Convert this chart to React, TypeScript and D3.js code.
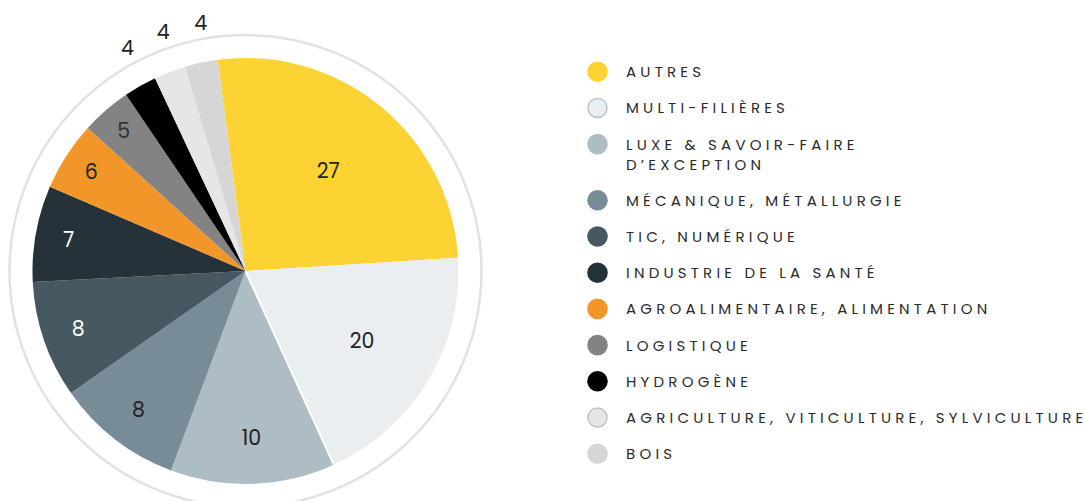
import React from "react";
import * as d3 from "d3";

const categories = [
  "AUTRES",
  "MULTI-FILIÈRES",
  "LUXE & SAVOIR-FAIRE|D’EXCEPTION",
  "MÉCANIQUE, MÉTALLURGIE",
  "TIC, NUMÉRIQUE",
  "INDUSTRIE DE LA SANTÉ",
  "AGROALIMENTAIRE, ALIMENTATION",
  "LOGISTIQUE",
  "HYDROGÈNE",
  "AGRICULTURE, VITICULTURE, SYLVICULTURE",
  "BOIS",
];
// angular share of each slice as drawn in the picture (percent of circle)
const shares = [26.1, 19.2, 12.5, 9.6, 8.9, 7.3, 5.25, 3.8, 2.5, 2.4, 2.5];
// numbers printed on the slices
const labels = [27, 20, 10, 8, 8, 7, 6, 5, 4, 4, 4];
const colors = [
  "#FDD233",
  "#EBEEF1",
  "#AEBCC3",
  "#778C96",
  "#465862",
  "#263239",
  "#F3962A",
  "#838383",
  "#000000",
  "#E6E6E6",
  "#D6D6D6",
];
const labelColors = ["#222", "#222", "#222", "#222", "#fff", "#fff", "#222", "#333", "#222", "#222", "#222"];
const legendStroke = [null, "#B4C0C8", null, null, null, null, null, null, null, "#B4C0C8", null];

const W = 1086;
const H = 501;
const cx = 245.5;
const cy = 271;
const R = 213;
const ringR = 236;
const startDeg = -7.5;

export default function App() {
  const toRad = (d: number) => (d * Math.PI) / 180;
  const pie = d3
    .pie<number>()
    .sort(null)
    .value((d) => d)
    .startAngle(toRad(startDeg))
    .endAngle(toRad(startDeg) + 2 * Math.PI);
  const arcs = pie(shares);
  const arcGen = d3.arc<d3.PieArcDatum<number>>().innerRadius(0).outerRadius(R);

  // label radius depends on slice angular span (degrees)
  const labelR = d3
    .scaleLinear()
    .domain([13, 26, 32, 45, 69, 94])
    .range([186, 180, 177, 167, 136, 130])
    .clamp(true);
  const outsideR = 253;

  const legendX = 597.5;
  const legendTextX = 626;
  const legendTop = 71.7;
  const step = 36.2;
  const extraLine = 20;
  let yCursor = legendTop;
  const legendItems = categories.map((c, i) => {
    const lines = c.split("|");
    const y = yCursor;
    yCursor += step + (lines.length - 1) * extraLine;
    return { lines, y, i };
  });

  const sep = arcs[1];

  return (
    <svg
      width={W}
      height={H}
      style={{ position: "absolute", left: 0, top: 0, background: "#fff" }}
      fontFamily="Poppins, Inter, 'Open Sans', sans-serif"
    >
      <circle cx={cx} cy={cy} r={ringR} fill="none" stroke="#E2E2E2" strokeWidth={2.5} />
      <g transform={`translate(${cx},${cy})`}>
        {arcs.map((a, i) => (
          <path key={i} d={arcGen(a) || ""} fill={colors[i]} />
        ))}
        <line
          x1={0}
          y1={0}
          x2={R * Math.sin(sep.endAngle)}
          y2={-R * Math.cos(sep.endAngle)}
          stroke="#fff"
          strokeWidth={2}
        />
        {arcs.map((a, i) => {
          const span = ((a.endAngle - a.startAngle) * 180) / Math.PI;
          const mid = (a.startAngle + a.endAngle) / 2 + (span < 10 ? toRad(1.8) : 0);
          const r = span < 10 ? outsideR : labelR(span);
          return (
            <text
              key={i}
              x={r * Math.sin(mid)}
              y={-r * Math.cos(mid)}
              textAnchor="middle"
              dominantBaseline="central"
              fontSize={20.5}
              fill={labelColors[i]}
            >
              {labels[i]}
            </text>
          );
        })}
      </g>
      {legendItems.map(({ lines, y, i }) => (
        <g key={i}>
          <circle
            cx={legendX}
            cy={y}
            r={legendStroke[i] ? 9.6 : 10.3}
            fill={colors[i]}
            stroke={legendStroke[i] || "none"}
            strokeWidth={legendStroke[i] ? 1.3 : 0}
          />
          {lines.map((ln, k) => (
            <text
              key={k}
              x={legendTextX}
              y={y + k * extraLine}
              dominantBaseline="central"
              fontSize={15}
              letterSpacing={4.2}
              fill="#2b2b2b"
            >
              {ln}
            </text>
          ))}
        </g>
      ))}
    </svg>
  );
}
